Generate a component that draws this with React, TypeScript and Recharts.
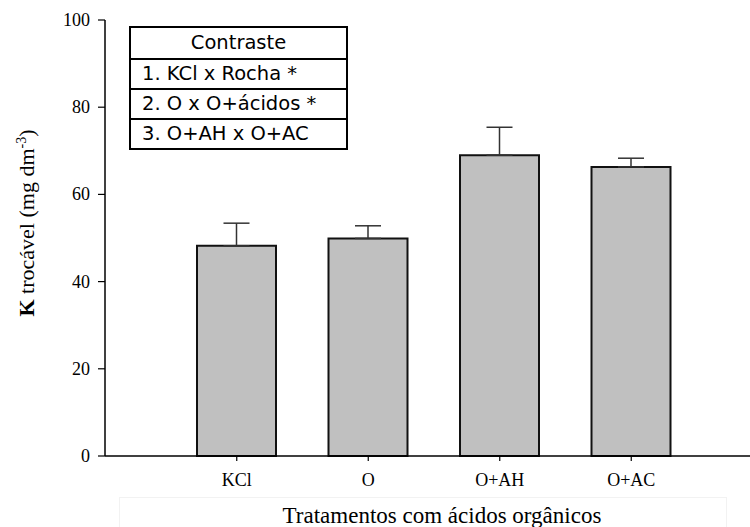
import { Bar, BarChart, ErrorBar, Label, XAxis, YAxis } from 'recharts';

// treatments and K means (mg dm-3) with the upper standard error
const treatments = ['KCl', 'O', 'O+AH', 'O+AC'];
const kMeans = [48.2, 49.9, 69.0, 66.3];
const kErrors = [5.2, 2.9, 6.4, 2.0];
const yTicks = [0, 20, 40, 60, 80, 100];
const contrastTitle = 'Contraste';
const contrasts = ['1. KCl x Rocha *', '2. O x O+ácidos *', '3. O+AH x O+AC'];

const data = treatments.map((name, i) => ({
  name,
  value: kMeans[i],
  err: [0, kErrors[i]],
}));

const serif = '"Liberation Serif", "Times New Roman", serif';

const YTick = ({ x, y, payload }: any) => (
  <text x={x} y={y} dy={6} textAnchor="end" fontFamily={serif} fontSize={18} fill="#000">
    {payload.value}
  </text>
);

const XTick = ({ x, y, payload }: any) => (
  <text x={x} y={y} dy={13} textAnchor="middle" fontFamily={serif} fontSize={18} fill="#000">
    {payload.value}
  </text>
);

const YTitle = () => (
  <text
    x={34}
    y={223}
    transform="rotate(-90 34 223)"
    textAnchor="middle"
    fontFamily={serif}
    fontSize={22}
    fill="#000"
  >
    <tspan fontWeight="bold">K</tspan>
    <tspan> trocável (mg dm</tspan>
    <tspan dy={-8} fontSize={14}>-3</tspan>
    <tspan dy={8}>)</tspan>
  </text>
);

const XTitle = () => (
  <text x={442} y={523} textAnchor="middle" fontFamily={serif} fontSize={23} fill="#000">
    Tratamentos com ácidos orgânicos
  </text>
);

export default function App() {
  return (
    <div
      style={{
        position: 'absolute',
        left: 0,
        top: 0,
        width: 750,
        height: 527,
        background: '#fff',
        fontFamily: serif,
      }}
    >
      <div
        style={{
          position: 'absolute',
          left: 119,
          top: 497,
          width: 606,
          height: 40,
          border: '1px solid #f2f2f2',
        }}
      />
      <BarChart
        width={750}
        height={527}
        data={data}
        margin={{ top: 20, right: 0, left: 0, bottom: 0 }}
        style={{ position: 'absolute', left: 0, top: 0 }}
      >
        <YAxis
          type="number"
          domain={[0, 100]}
          ticks={yTicks}
          width={105}
          tickSize={7}
          tickMargin={8}
          axisLine={{ stroke: '#000', strokeWidth: 1.5 }}
          tickLine={{ stroke: '#000', strokeWidth: 1.2 }}
          tick={<YTick />}
        >
          <Label content={<YTitle />} />
        </YAxis>
        <XAxis
          dataKey="name"
          height={71}
          padding={{ left: 66, right: 53 }}
          tickSize={5}
          tickMargin={12}
          axisLine={{ stroke: '#000', strokeWidth: 1.5 }}
          tickLine={{ stroke: '#000', strokeWidth: 1.2 }}
          tick={<XTick />}
        >
          <Label content={<XTitle />} />
        </XAxis>
        <Bar dataKey="value" fill="#c0c0c0" stroke="#111" strokeWidth={2} barSize={79} isAnimationActive={false}>
          <ErrorBar dataKey="err" direction="y" width={13} stroke="#333" strokeWidth={1.5} isAnimationActive={false} />
        </Bar>
      </BarChart>
      <div
        style={{
          position: 'absolute',
          left: 129,
          top: 26,
          width: 219,
          border: '2px solid #000',
          boxSizing: 'border-box',
          fontFamily: '"DejaVu Sans", Verdana, sans-serif',
          fontSize: 19.5,
          color: '#000',
          background: '#fff',
        }}
      >
        <div style={{ height: 30, lineHeight: '30px', textAlign: 'center', borderBottom: '2px solid #000' }}>
          {contrastTitle}
        </div>
        {contrasts.map((c, i) => (
          <div
            key={c}
            style={{
              height: 28,
              lineHeight: '28px',
              paddingLeft: 11,
              whiteSpace: 'nowrap',
              borderBottom: i < contrasts.length - 1 ? '2px solid #000' : 'none',
            }}
          >
            {c}
          </div>
        ))}
      </div>
    </div>
  );
}
